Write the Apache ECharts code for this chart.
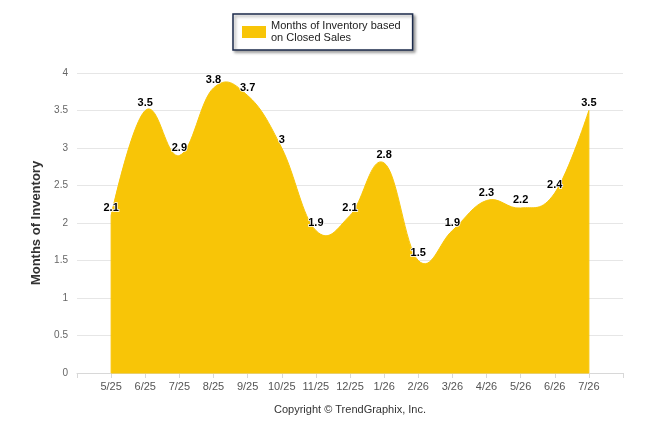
<!DOCTYPE html>
<html><head><meta charset="utf-8">
<script src="https://cdn.jsdelivr.net/npm/echarts@6/dist/echarts.min.js"></script>
<style>html,body{margin:0;padding:0;background:#fff}#c{width:646px;height:434px}</style>
</head><body><div id="c"></div>
<script>
var categories = ['', '5/25','6/25','7/25','8/25','9/25','10/25','11/25','12/25','1/26','2/26','3/26','4/26','5/26','6/26','7/26', ''];
var inventory = [null, 2.1, 3.5, 2.9, 3.8, 3.7, 3, 1.9, 2.1, 2.8, 1.5, 1.9, 2.3, 2.2, 2.4, 3.5, null];
var seriesName = 'Months of Inventory based on Closed Sales';
var yTicks = {min: 0, max: 4, interval: 0.5};
var FILL = '#F8C507';

// spline area (Highcharts-style spline through the data points), drawn via the chart's own scales
function renderArea(params, api) {
  if (params.dataIndex !== 1) return;
  var pts = [];
  for (var i = 0; i < inventory.length; i++) {
    if (inventory[i] != null) pts.push(api.coord([i, inventory[i]]));
  }
  var n = pts.length, sm = 1.5, den = sm + 1;
  var lc = [], rc = [];
  for (var k = 0; k < n; k++) {
    var p = pts[k];
    if (k === 0 || k === n - 1) { lc[k] = p.slice(); rc[k] = p.slice(); continue; }
    var a = pts[k - 1], b = pts[k + 1];
    var lx = (sm * p[0] + a[0]) / den, ly = (sm * p[1] + a[1]) / den;
    var rx = (sm * p[0] + b[0]) / den, ry = (sm * p[1] + b[1]) / den;
    var corr = 0;
    if (rx !== lx) corr = ((ry - ly) * (rx - p[0])) / (rx - lx) + p[1] - ry;
    ly += corr; ry += corr;
    lc[k] = [lx, ly]; rc[k] = [rx, ry];
  }
  var base0 = api.coord([0, 0])[1];
  var d = 'M' + pts[0][0] + ' ' + base0 + ' L' + pts[0][0] + ' ' + pts[0][1];
  for (var k = 1; k < n; k++) {
    d += ' C' + rc[k - 1][0] + ' ' + rc[k - 1][1] + ' ' + lc[k][0] + ' ' + lc[k][1] + ' ' + pts[k][0] + ' ' + pts[k][1];
  }
  d += ' L' + pts[n - 1][0] + ' ' + base0 + ' Z';
  return {type: 'path', shape: {pathData: d}, style: {fill: FILL, stroke: FILL, lineWidth: 1}};
}

var chart = echarts.init(document.getElementById('c'), null, {renderer: 'canvas'});
chart.setOption({
  animation: false,
  backgroundColor: '#fff',
  textStyle: {fontFamily: 'Liberation Sans, Arial, sans-serif'},
  grid: {left: 77, right: 23, top: 73, bottom: 61},
  legend: {
    left: 233, top: 14,
    padding: [6, 12, 6, 9],
    borderColor: '#1c2b4c', borderWidth: 1.5,
    backgroundColor: '#fff',
    shadowColor: 'rgba(0,0,0,0.35)', shadowBlur: 3, shadowOffsetX: 2, shadowOffsetY: 2,
    itemWidth: 24, itemHeight: 12, icon: 'rect',
    formatter: function () { return 'Months of Inventory based\non Closed Sales'; },
    textStyle: {fontSize: 11, color: '#222', lineHeight: 12, fontFamily: 'Liberation Sans, Arial, sans-serif'},
    data: [seriesName]
  },
  xAxis: {
    type: 'category', data: categories, boundaryGap: false,
    axisLine: {lineStyle: {color: '#d8d8d8'}},
    axisTick: {show: true, alignWithLabel: true, lineStyle: {color: '#d8d8d8'}, length: 5},
    axisLabel: {color: '#555', fontSize: 11, margin: 8, interval: 0},
    splitLine: {show: false}
  },
  yAxis: {
    type: 'value', min: yTicks.min, max: yTicks.max, interval: yTicks.interval,
    name: 'Months of Inventory', nameLocation: 'middle', nameGap: 31, nameRotate: 90,
    nameTextStyle: {fontSize: 13, fontWeight: 'bold', color: '#333'},
    axisLine: {show: false}, axisTick: {show: false},
    axisLabel: {color: '#666', fontSize: 10, margin: 9},
    splitLine: {lineStyle: {color: '#e6e6e6'}}
  },
  series: [{
    name: seriesName, type: 'custom',
    data: inventory.map(function (v, i) { return [i, v == null ? 0 : v]; }),
    renderItem: renderArea,
    itemStyle: {color: FILL},
    z: 2
  }, {
    name: 'labels', type: 'scatter', data: inventory.map(function (v, i) { return [i, v]; }),
    symbol: 'circle', symbolSize: 1,
    itemStyle: {color: 'rgba(0,0,0,0)'},
    z: 3,
    label: {
      show: true, position: 'top', distance: 2,
      fontSize: 11, fontWeight: 'bold', color: '#000', opacity: 1,
      textBorderColor: '#fff', textBorderWidth: 1.5,
      formatter: function (p) { return p.value[1]; }
    }
  }],
  graphic: [{
    type: 'text', x: 350, y: 410,
    style: {text: 'Copyright \u00A9 TrendGraphix, Inc.', fontSize: 11, fill: '#333',
      textAlign: 'center', textVerticalAlign: 'middle',
      fontFamily: 'Liberation Sans, Arial, sans-serif'}
  }]
});
</script></body></html>
